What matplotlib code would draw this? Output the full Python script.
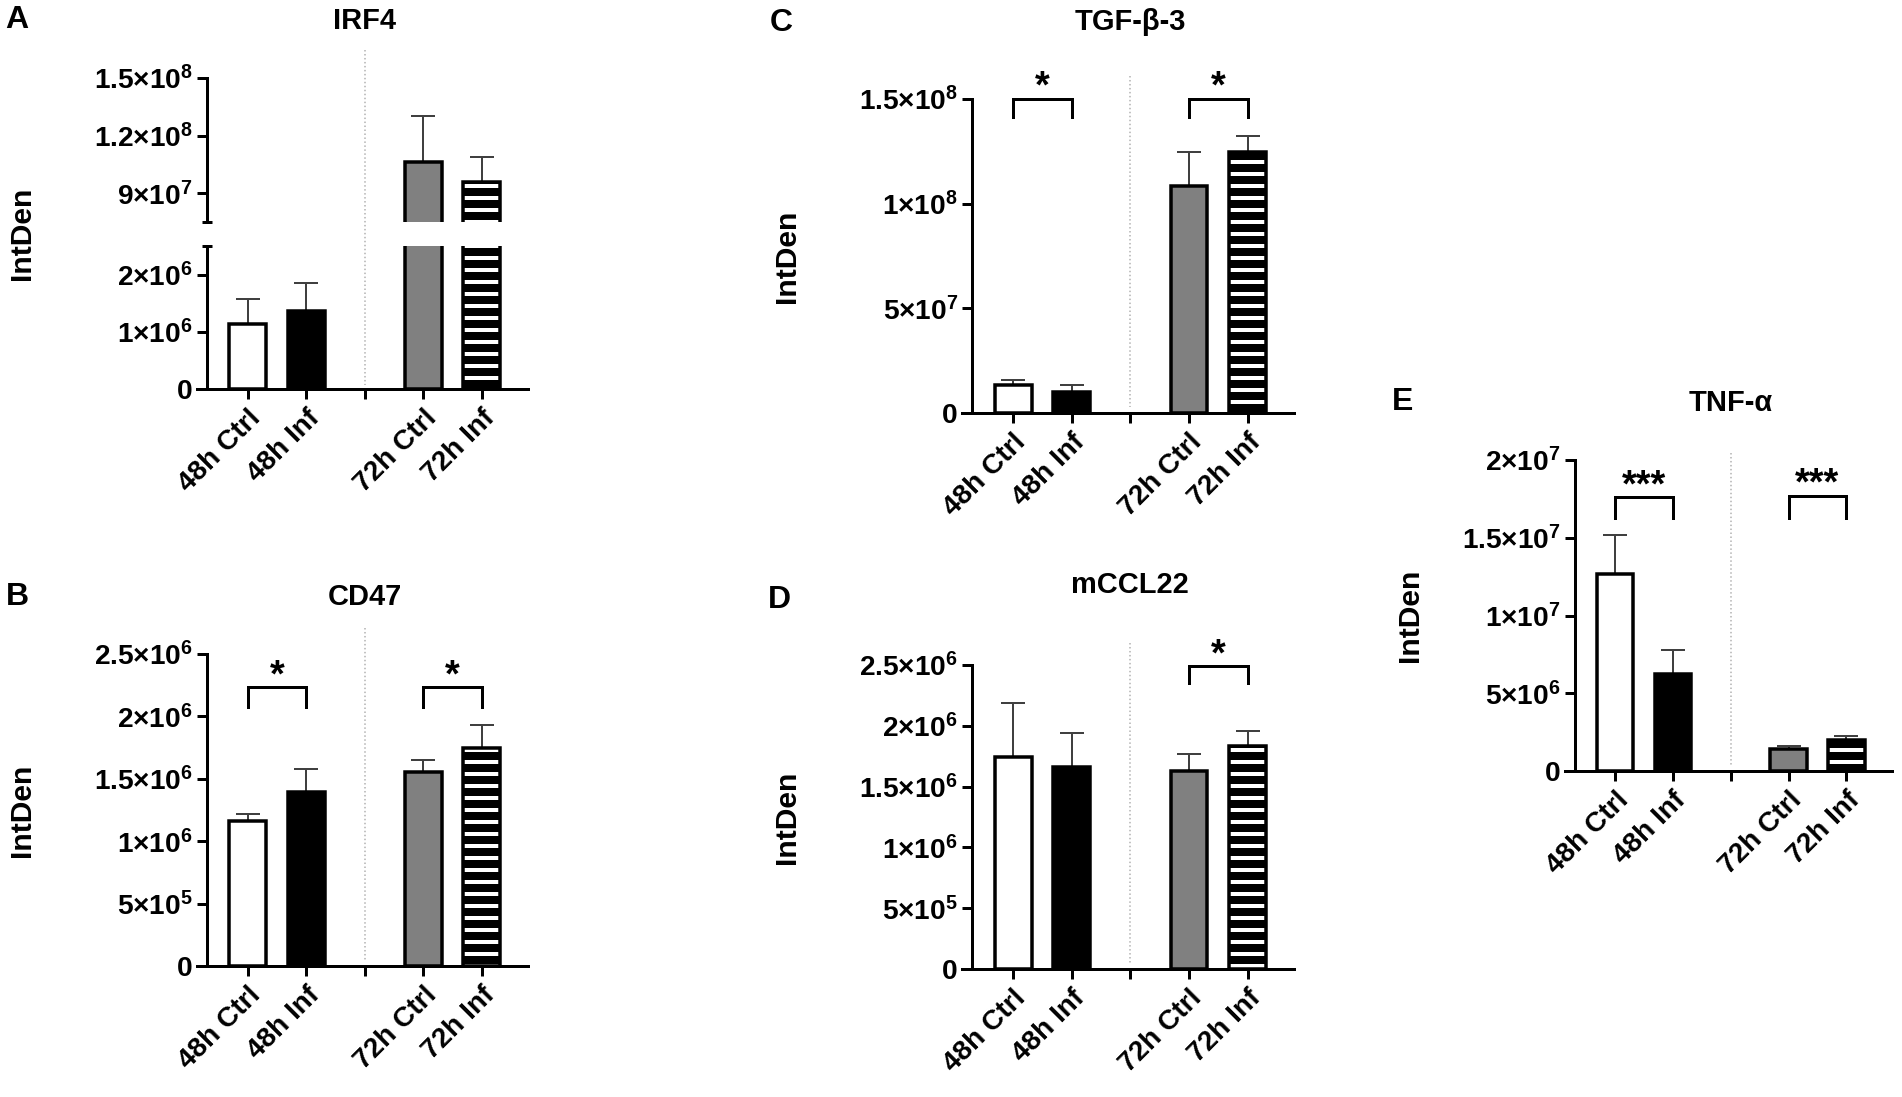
"""
Five-panel IntDen bar chart (IRF4, CD47, TGF-b-3, mCCL22, TNF-a),
48h / 72h control vs infected, GraphPad-like styling.
"""
import matplotlib
matplotlib.use("Agg")
import matplotlib.pyplot as plt
from matplotlib.transforms import blended_transform_factory

# ---- data -------------------------------------------------------------
groups = ["48h Ctrl", "48h Inf", "72h Ctrl", "72h Inf"]
tick_labels = ["48h Ctrl", "48h Inf", "", "72h Ctrl", "72h Inf"]
bar_x = [0, 1, 3, 4]

irf4_mean = [1.14e6, 1.37e6, 1.06e8, 9.57e7]
irf4_err = [0.44e6, 0.49e6, 2.4e7, 1.31e7]

cd47_mean = [1.16e6, 1.395e6, 1.553e6, 1.748e6]
cd47_err = [0.06e6, 0.185e6, 0.097e6, 0.182e6]

tgfb3_mean = [1.36e7, 1.0e7, 1.086e8, 1.249e8]
tgfb3_err = [2.4e6, 3.6e6, 1.63e7, 7.5e6]

ccl22_mean = [1.74e6, 1.664e6, 1.628e6, 1.834e6]
ccl22_err = [0.45e6, 0.276e6, 0.143e6, 0.123e6]

tnfa_mean = [12.7e6, 6.26e6, 1.44e6, 1.97e6]
tnfa_err = [2.5e6, 1.5e6, 0.15e6, 0.26e6]

# significance brackets: (left bar, right bar, top y, leg bottom y, label)
cd47_sig = [(0, 1, 2.233e6, 2.077e6, "*"), (3, 4, 2.233e6, 2.077e6, "*")]
tgfb3_sig = [(0, 1, 1.502e8, 1.413e8, "*"), (3, 4, 1.502e8, 1.413e8, "*")]
ccl22_sig = [(3, 4, 2.49e6, 2.35e6, "*")]
tnfa_sig = [(0, 1, 1.76e7, 1.63e7, "***"), (3, 4, 1.77e7, 1.63e7, "***")]

# y ticks
irf4_hi_ticks = [9e7, 1.2e8, 1.5e8]
irf4_hi_labels = [r"$9{\times}10^{7}$", r"$1.2{\times}10^{8}$",
                  r"$1.5{\times}10^{8}$"]
irf4_lo_ticks = [0, 1e6, 2e6]
irf4_lo_labels = ["0", r"$1{\times}10^{6}$", r"$2{\times}10^{6}$"]
m6_ticks = [0, 5e5, 1e6, 1.5e6, 2e6, 2.5e6]
m6_labels = ["0", r"$5{\times}10^{5}$", r"$1{\times}10^{6}$",
             r"$1.5{\times}10^{6}$", r"$2{\times}10^{6}$",
             r"$2.5{\times}10^{6}$"]
tgfb3_ticks = [0, 5e7, 1e8, 1.5e8]
tgfb3_labels = ["0", r"$5{\times}10^{7}$", r"$1{\times}10^{8}$",
                r"$1.5{\times}10^{8}$"]
tnfa_ticks = [0, 5e6, 1e7, 1.5e7, 2e7]
tnfa_labels = ["0", r"$5{\times}10^{6}$", r"$1{\times}10^{7}$",
               r"$1.5{\times}10^{7}$", r"$2{\times}10^{7}$"]

# ---- style ------------------------------------------------------------
W, H = 1902, 1097
plt.rcParams.update({
    "font.family": "Liberation Sans",
    "font.weight": "bold",
    "mathtext.fontset": "custom",
    "mathtext.rm": "Liberation Sans:bold",
    "mathtext.it": "Liberation Sans:bold",
    "mathtext.bf": "Liberation Sans:bold",
    "mathtext.sf": "Liberation Sans:bold",
    "mathtext.default": "rm",
    "hatch.linewidth": 4.0,
    "axes.linewidth": 3.0,
})

FILLS = ["white", "black", "#808080", "black"]
EDGE_LW = 3.5
BAR_W = 0.63
TICK_FS = 28
TITLE_FS = 29
XLIM = (-0.87, 4.79)

fig = plt.figure(figsize=(W / 72, H / 72), dpi=72)


def rect(left, top, right, bottom):
    return [left / W, 1 - bottom / H, (right - left) / W, (bottom - top) / H]


def draw_bars(ax, means, errs):
    ax.errorbar(bar_x, means, yerr=[[0] * 4, errs], fmt="none",
                ecolor="#404040", elinewidth=2, capsize=12, capthick=2,
                zorder=1)
    for x, m, c in zip(bar_x, means, FILLS):
        if x == 4:
            ax.bar(x, m, BAR_W, color="black", edgecolor="white",
                   hatch="-", linewidth=0, zorder=2)
            ax.bar(x, m, BAR_W, facecolor="none", edgecolor="black",
                   linewidth=EDGE_LW, zorder=3)
        else:
            ax.bar(x, m, BAR_W, color=c, edgecolor="black",
                   linewidth=EDGE_LW, zorder=2)


def style_axes(ax, ticks, labels, ylim, xaxis=True):
    ax.set_xlim(*XLIM)
    ax.set_ylim(*ylim)
    for s in ["top", "right"]:
        ax.spines[s].set_visible(False)
    ax.spines["left"].set_position(("data", -0.70))
    ax.set_yticks(ticks)
    ax.set_yticklabels(labels)
    ax.tick_params(axis="y", length=10, width=3, pad=4, labelsize=TICK_FS)
    if xaxis:
        ax.set_xticks(range(5))
        ax.set_xticklabels(tick_labels, rotation=45, ha="right", va="top",
                           rotation_mode="anchor", fontsize=TICK_FS)
        ax.tick_params(axis="x", length=10, width=3, pad=6)
    else:
        ax.spines["bottom"].set_visible(False)
        ax.set_xticks([])


def divider(ax, top_px, bottom_px):
    tr = blended_transform_factory(ax.transData, fig.transFigure)
    ax.plot([2, 2], [1 - top_px / H, 1 - bottom_px / H], transform=tr,
            color="#b0b0b0", lw=1.5, ls=":", clip_on=False, zorder=0)


def brackets(ax, sigs):
    for x0, x1, top, leg, txt in sigs:
        ax.plot([x0, x0, x1, x1], [leg, top, top, leg], color="black",
                lw=3, clip_on=False, solid_joinstyle="miter")
        ax.annotate(txt, (0.5 * (x0 + x1), top), xytext=(0, 1),
                    textcoords="offset points", ha="center", va="baseline",
                    fontsize=38, annotation_clip=False)


def header(ax, letter, title, letter_xy, title_y, spine_x, ymid):
    tr = blended_transform_factory(ax.transData, fig.transFigure)
    ax.text(2, 1 - title_y / H, title, transform=tr, ha="center",
            va="center", fontsize=TITLE_FS)
    fig.text(letter_xy[0] / W, 1 - letter_xy[1] / H, letter, ha="center",
             va="center", fontsize=32)
    fig.text((spine_x - 185) / W, 1 - ymid / H, "IntDen", rotation=90,
             ha="center", va="center", fontsize=30)


# ---- panel A (broken axis) ---------------------------------------------
axA_hi = fig.add_axes(rect(197, 78, 528, 222))
axA_lo = fig.add_axes(rect(197, 246, 528, 389))
draw_bars(axA_hi, irf4_mean, irf4_err)
draw_bars(axA_lo, irf4_mean, irf4_err)
style_axes(axA_hi, irf4_hi_ticks, irf4_hi_labels, (7.5e7, 1.5e8), xaxis=False)
style_axes(axA_lo, irf4_lo_ticks, irf4_lo_labels, (0, 2.5e6))
axA_hi.set_yticks([7.5e7], minor=True)
axA_lo.set_yticks([2.5e6], minor=True)
for a in (axA_hi, axA_lo):
    a.tick_params(axis="y", which="minor", direction="inout", length=10,
                  width=3)
divider(axA_lo, 50, 385)
header(axA_lo, "A", "IRF4", (17, 20), 21, 207, 233)

# ---- panel B -----------------------------------------------------------
axB = fig.add_axes(rect(197, 654, 528, 966))
draw_bars(axB, cd47_mean, cd47_err)
style_axes(axB, m6_ticks, m6_labels, (0, 2.5e6))
brackets(axB, cd47_sig)
divider(axB, 628, 960)
header(axB, "B", "CD47", (17, 597), 597, 207, 810)

# ---- panel C -----------------------------------------------------------
axC = fig.add_axes(rect(962, 99, 1294, 413))
draw_bars(axC, tgfb3_mean, tgfb3_err)
style_axes(axC, tgfb3_ticks, tgfb3_labels, (0, 1.5e8))
brackets(axC, tgfb3_sig)
divider(axC, 76, 407)
header(axC, "C", "TGF-β-3", (781, 23), 22, 972, 256)

# ---- panel D -----------------------------------------------------------
axD = fig.add_axes(rect(962, 665, 1294, 969))
draw_bars(axD, ccl22_mean, ccl22_err)
style_axes(axD, m6_ticks, m6_labels, (0, 2.5e6))
brackets(axD, ccl22_sig)
divider(axD, 643, 963)
header(axD, "D", "mCCL22", (779, 600), 585, 972, 817)

# ---- panel E -----------------------------------------------------------
axE = fig.add_axes(rect(1565, 460, 1892, 771))
draw_bars(axE, tnfa_mean, tnfa_err)
style_axes(axE, tnfa_ticks, tnfa_labels, (0, 2e7))
brackets(axE, tnfa_sig)
divider(axE, 453, 767)
header(axE, "E", "TNF-α", (1403, 402), 403, 1595, 615)

fig.savefig("out.png", dpi=72)
